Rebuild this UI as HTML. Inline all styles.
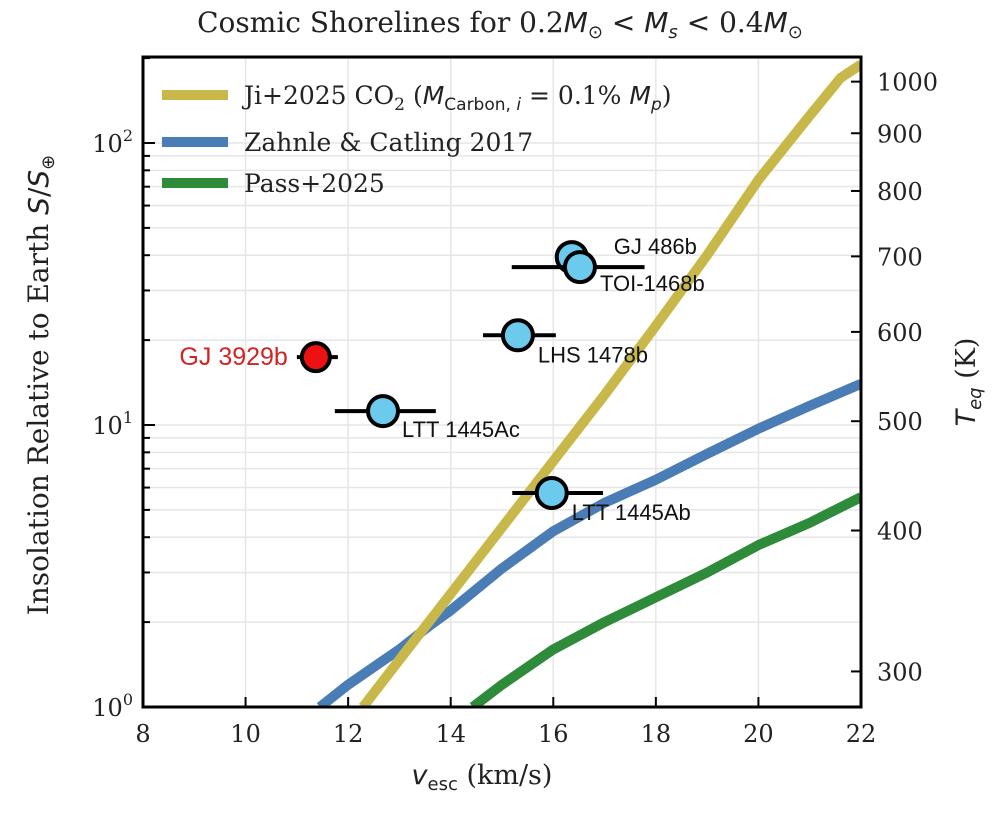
<!DOCTYPE html>
<html><head><meta charset="utf-8"><style>
body{margin:0;background:#fff;}
svg text{font-family:"DejaVu Serif","Liberation Serif",serif;fill:#222;}
.sans{font-family:"Liberation Sans","DejaVu Sans",sans-serif !important;}
.m{font-family:"DejaVu Sans","Liberation Sans",sans-serif;font-style:italic;}
.ms{font-family:"DejaVu Sans","Liberation Sans",sans-serif;}
</style></head><body>
<svg id="chart" width="1000" height="812" xmlns="http://www.w3.org/2000/svg">
<text x="500" y="32" font-size="28" text-anchor="middle">Cosmic Shorelines for 0.2<tspan class="m">M</tspan><tspan font-size="18" dy="6" class="ms">⊙</tspan><tspan dy="-6" class="ms"> &lt; </tspan><tspan class="m">M</tspan><tspan font-size="18" dy="6" class="m">s</tspan><tspan dy="-6" class="ms"> &lt; </tspan><tspan>0.4</tspan><tspan class="m">M</tspan><tspan font-size="18" dy="6" class="ms">⊙</tspan></text>
<g id="grid"></g>
<g id="curves"></g>
<g id="points"></g>
<g id="axes"></g>
<g id="legend">
<line x1="162" y1="95" x2="228" y2="95" stroke="#c8b84a" stroke-width="10"/>
<text x="244" y="104" font-size="25">Ji+2025 CO<tspan font-size="17" dy="6">2</tspan><tspan dy="-6"> (</tspan><tspan class="m">M</tspan><tspan font-size="17" dy="6" class="ms">Carbon, <tspan class="m">i</tspan></tspan><tspan dy="-6" class="ms"> = </tspan><tspan>0.1% </tspan><tspan class="m">M</tspan><tspan font-size="17" dy="6" class="m">p</tspan><tspan dy="-6">)</tspan></text>
<line x1="162" y1="142" x2="228" y2="142" stroke="#4a7db5" stroke-width="10"/>
<text x="244" y="151" font-size="25">Zahnle &amp; Catling 2017</text>
<line x1="162" y1="183" x2="228" y2="183" stroke="#2e8b3a" stroke-width="10"/>
<text x="244" y="192" font-size="25">Pass+2025</text>
</g>
<text x="482" y="784" font-size="27" text-anchor="middle"><tspan class="m">v</tspan><tspan font-size="18" dy="6" class="ms">esc</tspan><tspan dy="-6"> (km/s)</tspan></text>
<text transform="translate(48,385) rotate(-90)" font-size="28" text-anchor="middle">Insolation Relative to Earth <tspan class="m">S</tspan><tspan class="ms">/</tspan><tspan class="m">S</tspan><tspan font-size="18" dy="6" class="ms">⊕</tspan></text>
<text transform="translate(975,382) rotate(-90)" font-size="27" text-anchor="middle"><tspan class="m">T</tspan><tspan font-size="18" dy="6" class="m">eq</tspan><tspan dy="-6"> (K)</tspan></text>
</svg>
<script>
const xTicks=[8,10,12,14,16,18,20,22];
const tTicks=[300,400,500,600,700,800,900,1000];
const jiV=[12.29,13,14,15,16,17,18,19,20,21,21.6,22];
const jiS=[1,1.47,2.52,4.33,7.45,12.8,22.5,40,74,125,170,190];
const zcV=[11.45,12,13,13.6,14,15,16,17,18,19,20,21,22];
const zcS=[1,1.2,1.6,1.95,2.2,3.1,4.2,5.3,6.4,7.9,9.7,11.7,14];
const paV=[14.43,15,16,17,18,19,20,21,22];
const paS=[1,1.2,1.6,2.0,2.45,3.0,3.75,4.5,5.55];
const planetNames=["GJ 3929b","LTT 1445Ac","LHS 1478b","GJ 486b","TOI-1468b","LTT 1445Ab"];
const planetV=[11.37,12.68,15.31,16.36,16.52,15.97];
const planetS=[17.4,11.2,20.8,39.4,36.3,5.74];
const planetVlo=[11.0,11.74,14.63,16.3,15.19,15.2];
const planetVhi=[11.8,13.71,16.05,16.45,17.78,16.97];
const L=143,R=861,T=57,B=707,DEC=282;
const X=v=>L+(v-8)*(R-L)/14;
const Y=s=>B-Math.log10(s)*DEC;
const TY=t=>Y(Math.pow(t/279,4));
const NS="http://www.w3.org/2000/svg";
function mk(tag,attrs,parent){const e=document.createElementNS(NS,tag);for(const k in attrs)e.setAttribute(k,attrs[k]);parent.appendChild(e);return e;}
const grid=document.getElementById('grid');
xTicks.forEach(v=>{const l=mk('line',{x1:X(v),x2:X(v),y1:T,y2:B,stroke:'#e6e6e6','stroke-width':1.5},grid);

});
for(let d=0;d<3;d++)for(let m=1;m<10;m++){const s=m*Math.pow(10,d);const y=Y(s);if(y<T)continue;
const l=mk('line',{x1:L,x2:R,y1:y,y2:y,stroke:'#e6e6e6','stroke-width':1.5},grid);

}
const curves=document.getElementById('curves');
const clip=mk('clipPath',{id:'pc'},curves);mk('rect',{x:L,y:T,width:R-L,height:B-T},clip);
function curve(vs,ss,color,name){const d=vs.map((v,i)=>(i?'L':'M')+X(v).toFixed(1)+','+Y(ss[i]).toFixed(1)).join(' ');
const p=mk('path',{d:d,fill:'none',stroke:color,'stroke-width':10,'stroke-linejoin':'round','clip-path':'url(#pc)'},curves);

}
curve(zcV,zcS,'#4a7db5','zahnle-catling-line');
curve(paV,paS,'#2e8b3a','pass-line');
curve(jiV,jiS,'#c8b84a','ji-line');
const pts=document.getElementById('points');
const lblOff=[[-9,8,'end'],[19,26,'start'],[20,27,'start'],[42,-3,'start'],[20,24,'start'],[20,27,'start']];
planetNames.forEach((n,i)=>{const y=Y(planetS[i]);const red=i===0;
const eb=mk('line',{x1:X(planetVlo[i]),x2:X(planetVhi[i]),y1:y,y2:y,stroke:'#000','stroke-width':4},pts);


const c=mk('circle',{cx:X(planetV[i]),cy:y,r:red?14:15,fill:red?'#ee1111':'#6ccbec',stroke:'#000','stroke-width':4},pts);


const o=lblOff[i];const x0=i===0?X(planetVlo[i]):X(planetV[i]);
const t=mk('text',{x:x0+o[0],y:y+o[1],'font-size':i===0?25:22,'text-anchor':o[2],class:'sans'},pts);
t.style.fill=red?'#d02525':'#111';t.textContent=n;

});
const ax=document.getElementById('axes');
const fr=mk('rect',{x:L,y:T,width:R-L,height:B-T,fill:'none',stroke:'#000','stroke-width':3},ax);


xTicks.forEach(v=>{mk('line',{x1:X(v),x2:X(v),y1:B,y2:B-10,stroke:'#000','stroke-width':2},ax);
const t=mk('text',{x:X(v),y:B+35,'font-size':24,'text-anchor':'middle'},ax);t.textContent=v;

});
for(let d=0;d<3;d++)for(let m=1;m<10;m++){const y=Y(m*Math.pow(10,d));if(y<T)continue;
mk('line',{x1:L,x2:L+(m===1?12:7),y1:y,y2:y,stroke:'#000','stroke-width':2},ax);
if(m===1){const t=mk('text',{x:L-10,y:y+9,'font-size':24,'text-anchor':'end'},ax);
t.innerHTML='10<tspan font-size="16" dy="-11">'+d+'</tspan>';

}}
tTicks.forEach(v=>{const y=TY(v);mk('line',{x1:R,x2:R-10,y1:y,y2:y,stroke:'#000','stroke-width':2},ax);
const t=mk('text',{x:R+16,y:y+9,'font-size':24},ax);t.textContent=v;

});
</script>
</body></html>
